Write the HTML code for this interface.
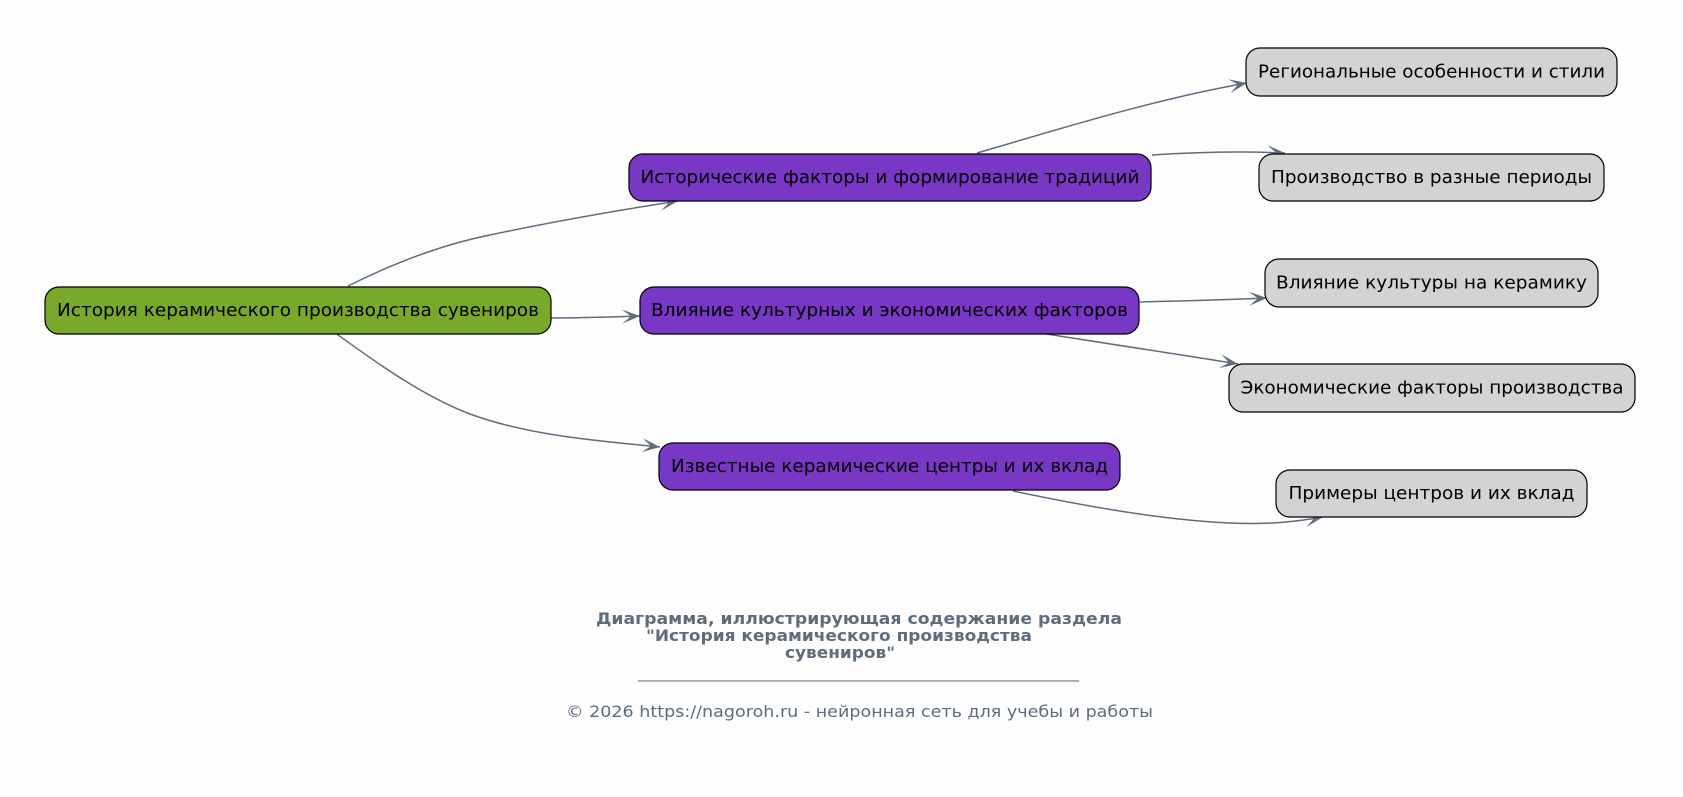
<!DOCTYPE html>
<html>
<head>
<meta charset="utf-8">
<style>
  html, body { margin: 0; padding: 0; background: #fdfdfd; }
  svg { display: block; }
  .n { font-family: "DejaVu Sans", "Liberation Sans", sans-serif; font-size: 18px; fill: #000; }
  .t { font-family: "DejaVu Sans", "Liberation Sans", sans-serif; fill: #5d6d7e; }
</style>
</head>
<body>
<svg width="1683" height="797" viewBox="0 0 1683 797" xmlns="http://www.w3.org/2000/svg">
  <defs>
    <marker id="vee" viewBox="0 0 18 14" refX="18" refY="7" markerWidth="18" markerHeight="14" markerUnits="userSpaceOnUse" orient="auto">
      <path d="M0,0 L18,7 L0,14 L9,7 Z" fill="#5d6d7e"/>
    </marker>
  </defs>
  <rect width="1683" height="797" fill="#fdfdfd"/>

  <!-- edges -->
  <g fill="none" stroke="#5d6d7e" stroke-width="1.5" marker-end="url(#vee)">
    <path d="M348,286 C400,260 445,244 490,235 C560,220 620,210 678,201"/>
    <path d="M551,318 C580,318 610,317 640,316"/>
    <path d="M334,332 C370,358 420,395 470,414 C530,436 600,441 660,447"/>
    <path d="M977,153 C1050,132 1150,100 1247,83"/>
    <path d="M1152,155 C1200,152 1240,151 1285,153"/>
    <path d="M1140,302 C1180,301 1220,300 1267,298"/>
    <path d="M1040,333 C1100,342 1170,353 1238,364"/>
    <path d="M1013,491 C1080,505 1160,520 1230,523 C1270,525 1300,521 1323,517"/>
  </g>

  <!-- nodes -->
  <g stroke="#000" stroke-width="1.2">
    <rect x="45" y="287" width="506" height="47" rx="14" fill="#78a92a"/>
    <rect x="629" y="154" width="522" height="47" rx="14" fill="#7837c4"/>
    <rect x="640" y="287" width="499" height="47" rx="14" fill="#7837c4"/>
    <rect x="659" y="443" width="461" height="47" rx="14" fill="#7837c4"/>
    <rect x="1246" y="48" width="371" height="48" rx="14" fill="#d3d3d3"/>
    <rect x="1259" y="154" width="345" height="47" rx="14" fill="#d3d3d3"/>
    <rect x="1265" y="259" width="333" height="48" rx="14" fill="#d3d3d3"/>
    <rect x="1229" y="364" width="406" height="48" rx="14" fill="#d3d3d3"/>
    <rect x="1276" y="470" width="311" height="47" rx="14" fill="#d3d3d3"/>
  </g>

  <g class="n" text-anchor="middle">
    <text x="298" y="316" textLength="482" lengthAdjust="spacingAndGlyphs">История керамического производства сувениров</text>
    <text x="890" y="183" textLength="499" lengthAdjust="spacingAndGlyphs">Исторические факторы и формирование традиций</text>
    <text x="889.5" y="316" textLength="477" lengthAdjust="spacingAndGlyphs">Влияние культурных и экономических факторов</text>
    <text x="889.5" y="472" textLength="437" lengthAdjust="spacingAndGlyphs">Известные керамические центры и их вклад</text>
    <text x="1431.5" y="77.5" textLength="347" lengthAdjust="spacingAndGlyphs">Региональные особенности и стили</text>
    <text x="1431.5" y="183" textLength="321" lengthAdjust="spacingAndGlyphs">Производство в разные периоды</text>
    <text x="1431.5" y="288.5" textLength="311" lengthAdjust="spacingAndGlyphs">Влияние культуры на керамику</text>
    <text x="1432" y="393.5" textLength="383" lengthAdjust="spacingAndGlyphs">Экономические факторы производства</text>
    <text x="1431.5" y="499" textLength="286" lengthAdjust="spacingAndGlyphs">Примеры центров и их вклад</text>
  </g>

  <!-- footer -->
  <g class="t">
    <text x="596" y="624" font-size="16" font-weight="bold" textLength="526" lengthAdjust="spacingAndGlyphs">Диаграмма, иллюстрирующая содержание раздела</text>
    <text x="646" y="641" font-size="16" font-weight="bold" textLength="386" lengthAdjust="spacingAndGlyphs">"История керамического производства</text>
    <text x="785" y="658" font-size="16" font-weight="bold" textLength="110" lengthAdjust="spacingAndGlyphs">сувениров"</text>
    <text x="638" y="678" font-size="15" textLength="441" lengthAdjust="spacingAndGlyphs">___________________________________________________________</text>
    <text x="566" y="717" font-size="16" textLength="587" lengthAdjust="spacingAndGlyphs">© 2026 https://nagoroh.ru - нейронная сеть для учебы и работы</text>
  </g>
</svg>
</body>
</html>
